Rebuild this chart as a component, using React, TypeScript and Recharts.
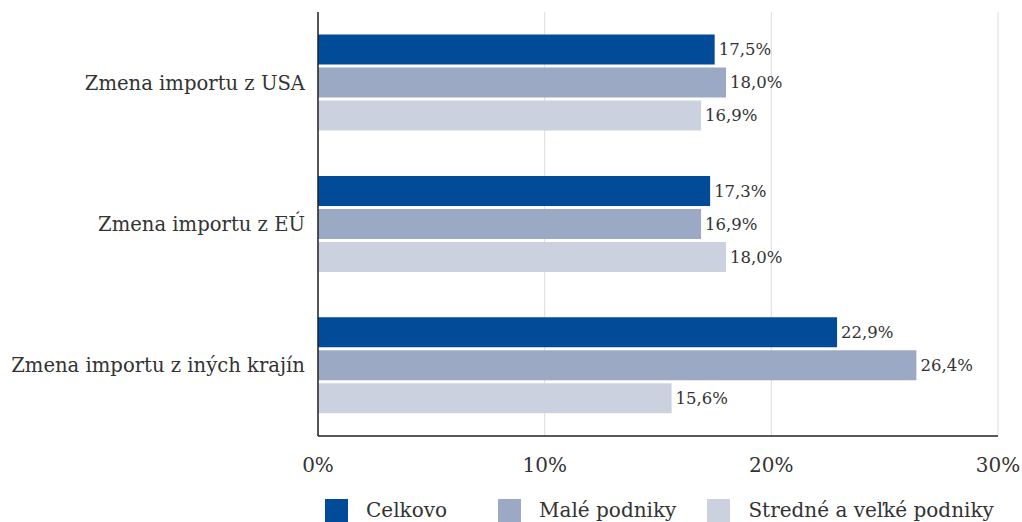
import { BarChart, Bar, XAxis, YAxis, CartesianGrid, Legend, LabelList } from 'recharts';

const categories = ['Zmena importu z USA', 'Zmena importu z EÚ', 'Zmena importu z iných krajín'];
const celkovo = [17.5, 17.3, 22.9];
const male = [18.0, 16.9, 26.4];
const stredne = [16.9, 18.0, 15.6];
const xTicks = [0, 10, 20, 30];

const series = [
  { key: 'celkovo', name: 'Celkovo', color: '#014B98' },
  { key: 'male', name: 'Malé podniky', color: '#9CA9C4' },
  { key: 'stredne', name: 'Stredné a veľké podniky', color: '#CBD1DF' },
];

const data = categories.map((name, i) => ({ name, celkovo: celkovo[i], male: male[i], stredne: stredne[i] }));

const FONT = '"DejaVu Serif", serif';
const TEXT = '#333333';

const fmt = (v: any) => `${Number(v).toFixed(1).replace('.', ',')}%`;

function LegendContent() {
  const gaps = [0, 51, 31];
  return (
    <div style={{ display: 'flex', alignItems: 'center', paddingLeft: 325, paddingTop: 22, fontFamily: FONT, fontSize: 20, color: TEXT }}>
      {series.map((s, i) => (
        <div key={s.key} style={{ display: 'flex', alignItems: 'center', marginLeft: gaps[i] }}>
          <span style={{ width: 23, height: 23, background: s.color, display: 'inline-block', marginRight: 18 }} />
          <span>{s.name}</span>
        </div>
      ))}
    </div>
  );
}

export default function App() {
  return (
    <div style={{ position: 'absolute', left: 0, top: 0, width: 1022, height: 522, background: '#fff', overflow: 'hidden' }}>
      <BarChart
        width={1022}
        height={522}
        data={data}
        layout="vertical"
        margin={{ top: 12, right: 24, bottom: 0, left: 0 }}
        barCategoryGap="16%"
        barGap={3}
      >
        <CartesianGrid horizontal={false} stroke="#DDDDDD" />
        <XAxis
          type="number"
          domain={[0, 30]}
          ticks={xTicks}
          tickFormatter={(v) => `${v}%`}
          height={40}
          tickLine={false}
          tickMargin={16}
          axisLine={{ stroke: '#222', strokeWidth: 1.5 }}
          tick={{ fontFamily: FONT, fontSize: 20, fill: TEXT }}
        />
        <YAxis
          type="category"
          dataKey="name"
          width={318}
          tickLine={false}
          tickMargin={7}
          axisLine={{ stroke: '#222', strokeWidth: 1.5 }}
          tick={{ fontFamily: FONT, fontSize: 19.6, fill: TEXT }}
        />
        <Legend verticalAlign="bottom" height={46} content={() => <LegendContent />} />
        {series.map((s) => (
          <Bar key={s.key} dataKey={s.key} name={s.name} fill={s.color} isAnimationActive={false}>
            <LabelList dataKey={s.key} position="right" offset={4} formatter={fmt} style={{ fontFamily: FONT, fontSize: 16.5, fill: TEXT }} />
          </Bar>
        ))}
      </BarChart>
    </div>
  );
}
